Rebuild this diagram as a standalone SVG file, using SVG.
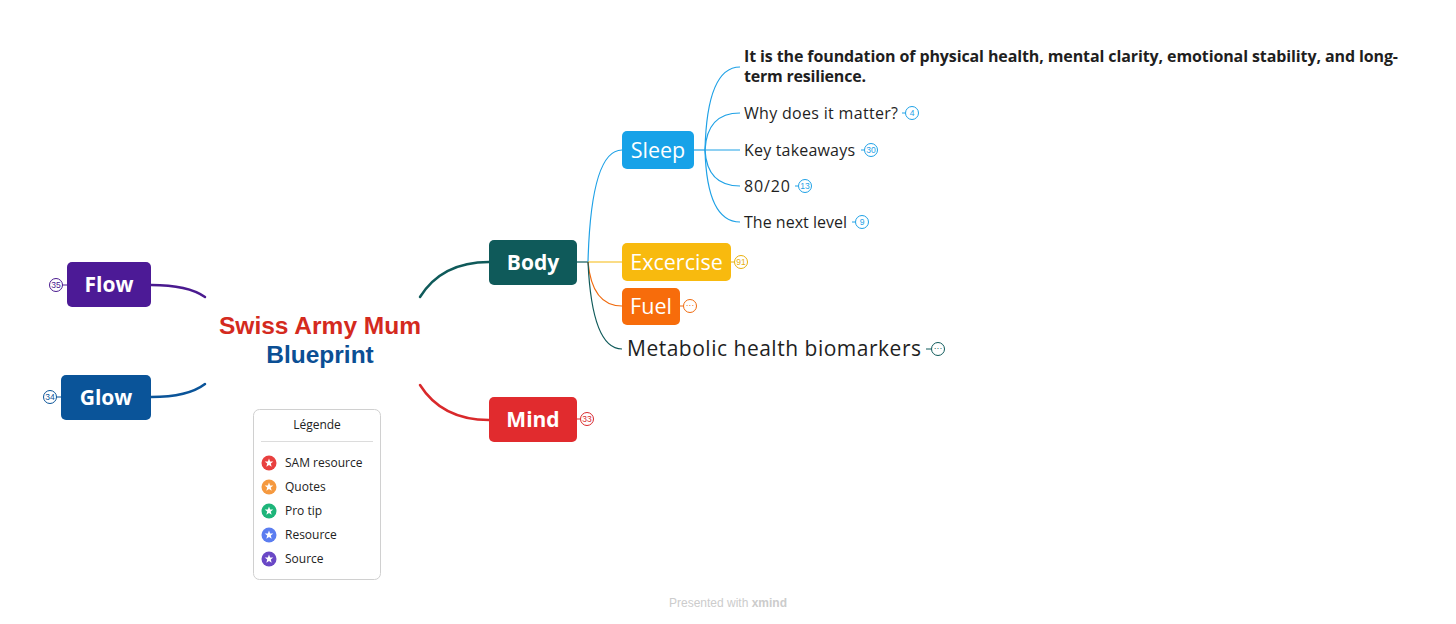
<svg xmlns="http://www.w3.org/2000/svg" width="1456" height="624" viewBox="0 0 1456 624">
<style>
.ff{font-family:"Open Sans","Noto Sans","Liberation Sans",sans-serif}
.main{stroke-width:2.5;fill:none;stroke-linecap:round}
.sub{stroke-width:1.2;fill:none}
.lbl{font-family:"Open Sans","Noto Sans","Liberation Sans",sans-serif;font-size:16px;fill:#1f1f1f}
.bt{font-family:"Open Sans","Noto Sans","Liberation Sans",sans-serif;font-size:21px;font-weight:700;fill:#fff;text-anchor:middle}
.nt{font-family:"Open Sans","Noto Sans","Liberation Sans",sans-serif;font-size:21.5px;fill:#fff;text-anchor:middle}
.badge circle{fill:#fff;stroke-width:1}
.badge text{font-family:"Liberation Sans",Arial,sans-serif;font-size:8.5px;text-anchor:middle}
.leg{font-family:"Open Sans","Noto Sans","Liberation Sans",sans-serif;font-size:12px;fill:#222}
</style>
<defs>
<polygon id="star" points="0,-4.5 1.12,-1.54 4.28,-1.39 1.81,0.59 2.65,3.64 0,1.9 -2.65,3.64 -1.81,0.59 -4.28,-1.39 -1.12,-1.54" fill="#fff"/>
</defs>
<rect width="1456" height="624" fill="#fff"/>

<g id="connectors">
<path class="main" stroke="#0f5a5a" d="M420,297 Q442,262 489,262"/>
<path class="main" stroke="#d9292b" d="M420,385 Q442,420 489,420"/>
<path class="main" stroke="#4a1a8f" d="M205,297 Q188,285 151,285"/>
<path class="main" stroke="#0a5499" d="M205,384 Q188,397 151,397"/>
<path class="sub" stroke="#0f5a5a" d="M577,262 L588,262"/>
<path class="sub" stroke="#1ea1e6" d="M588,262 Q591,150 622,150"/>
<path class="sub" stroke="#f5b90f" d="M588,262 L622,262"/>
<path class="sub" stroke="#f06a0e" d="M588,262 Q592,306 622,306"/>
<path class="sub" stroke="#0f5a5a" d="M588,262 Q592,349 622,349"/>
<path class="sub" stroke="#1ea1e6" d="M694,150 L705,150"/>
<path class="sub" stroke="#1ea1e6" d="M705,150 Q707,67 740,67"/>
<path class="sub" stroke="#1ea1e6" d="M705,150 Q707,113 740,113"/>
<path class="sub" stroke="#1ea1e6" d="M705,150 L740,150"/>
<path class="sub" stroke="#1ea1e6" d="M705,150 Q707,186 740,186"/>
<path class="sub" stroke="#1ea1e6" d="M705,150 Q707,222 740,222"/>
</g>

<g id="central">
<text x="320" y="334" font-family="'Liberation Sans',Arial,sans-serif" font-weight="700" font-size="24.5" fill="#d42a1e" text-anchor="middle">Swiss Army Mum</text>
<text x="320" y="363" font-family="'Liberation Sans',Arial,sans-serif" font-weight="700" font-size="24.5" fill="#0b4f94" text-anchor="middle">Blueprint</text>
</g>

<g id="body">
<rect x="489" y="240" width="88" height="45" rx="5" fill="#0f5a5a"/>
<text class="bt" x="533" y="270">Body</text>
</g>

<g id="mind">
<rect x="489" y="397" width="88" height="45" rx="5" fill="#e12b2e"/>
<text class="bt" x="533" y="427">Mind</text>
<g class="badge"><path d="M577,419 H580" stroke="#d9292b" stroke-width="1"/><circle cx="587" cy="419" r="6.5" stroke="#d9292b"/><text x="587" y="422" fill="#d9292b">33</text></g>
</g>

<g id="flow">
<rect x="67" y="262" width="84" height="45" rx="5" fill="#4c1a96"/>
<text class="bt" x="109" y="292">Flow</text>
<g class="badge"><path d="M62,285 H67" stroke="#4a1a8f" stroke-width="1"/><circle cx="56" cy="285" r="6.5" stroke="#4a1a8f"/><text x="56" y="288" fill="#4a1a8f">35</text></g>
</g>

<g id="glow">
<rect x="61" y="375" width="90" height="45" rx="5" fill="#0a5499"/>
<text class="bt" x="106" y="405">Glow</text>
<g class="badge"><path d="M56,397 H61" stroke="#0a5499" stroke-width="1"/><circle cx="50" cy="397" r="6.5" stroke="#0a5499"/><text x="50" y="400" fill="#0a5499">34</text></g>
</g>

<g id="sleep">
<rect x="622" y="131" width="72" height="38" rx="5" fill="#17a2e8"/>
<text class="nt" x="658" y="158">Sleep</text>
</g>

<g id="excercise">
<rect x="622" y="243" width="109" height="38" rx="5" fill="#f8ba0e"/>
<text class="nt" x="676.5" y="270">Excercise</text>
<g class="badge"><path d="M731,262 H734" stroke="#e8b00c" stroke-width="1"/><circle cx="741" cy="262" r="6.5" stroke="#e8b00c"/><text x="741" y="265" fill="#e8b00c">91</text></g>
</g>

<g id="fuel">
<rect x="622" y="288" width="58" height="37" rx="5" fill="#f76c0b"/>
<text class="nt" x="651" y="314">Fuel</text>
<g class="badge"><path d="M680,306 H683" stroke="#f06a0e" stroke-width="1"/><circle cx="690" cy="306" r="6.5" stroke="#f06a0e"/><text x="690" y="308" fill="#f06a0e">···</text></g>
</g>

<g id="metabolic">
<text class="ff" x="627" y="356" font-size="21" fill="#1f1f1f" textLength="294">Metabolic health biomarkers</text>
<g class="badge"><path d="M926,349 H931" stroke="#0f5a5a" stroke-width="1"/><circle cx="938" cy="349" r="6.5" stroke="#0f5a5a"/><text x="938" y="351" fill="#0f5a5a">···</text></g>
</g>

<g id="foundation">
<text class="lbl" x="744" y="62" font-size="14.5" font-weight="700" textLength="654">It is the foundation of physical health, mental clarity, emotional stability, and long-</text>
<text class="lbl" x="744" y="82" font-size="14.5" font-weight="700" textLength="122">term resilience.</text>
</g>

<g id="why">
<text class="lbl" x="744" y="119" textLength="154">Why does it matter?</text>
<g class="badge"><path d="M902,113 H905" stroke="#1ea1e6" stroke-width="1"/><circle cx="912" cy="113" r="6.5" stroke="#1ea1e6"/><text x="912" y="116" fill="#1ea1e6">4</text></g>
</g>

<g id="takeaways">
<text class="lbl" x="744" y="156" textLength="111">Key takeaways</text>
<g class="badge"><path d="M861,150 H864" stroke="#1ea1e6" stroke-width="1"/><circle cx="871" cy="150" r="6.5" stroke="#1ea1e6"/><text x="871" y="153" fill="#1ea1e6">30</text></g>
</g>

<g id="eighty">
<text class="lbl" x="744" y="192" textLength="46">80/20</text>
<g class="badge"><path d="M795,186 H798" stroke="#1ea1e6" stroke-width="1"/><circle cx="805" cy="186" r="6.5" stroke="#1ea1e6"/><text x="805" y="189" fill="#1ea1e6">13</text></g>
</g>

<g id="nextlevel">
<text class="lbl" x="744" y="228" textLength="103">The next level</text>
<g class="badge"><path d="M852,222 H855" stroke="#1ea1e6" stroke-width="1"/><circle cx="862" cy="222" r="6.5" stroke="#1ea1e6"/><text x="862" y="225" fill="#1ea1e6">9</text></g>
</g>

<g id="legend">
<rect x="253.5" y="409.5" width="127" height="170" rx="6" fill="#fff" stroke="#d0d0d0"/>
<text class="leg" x="317" y="429" text-anchor="middle">Légende</text>
<line x1="261" y1="441.5" x2="373" y2="441.5" stroke="#dcdcdc"/>
<circle cx="269" cy="463" r="7.5" fill="#e8403f"/><use href="#star" x="269" y="463"/>
<text class="leg" x="285" y="467">SAM resource</text>
<circle cx="269" cy="487" r="7.5" fill="#f5993f"/><use href="#star" x="269" y="487"/>
<text class="leg" x="285" y="491">Quotes</text>
<circle cx="269" cy="511" r="7.5" fill="#1eb57a"/><use href="#star" x="269" y="511"/>
<text class="leg" x="285" y="515">Pro tip</text>
<circle cx="269" cy="535" r="7.5" fill="#5b7df0"/><use href="#star" x="269" y="535"/>
<text class="leg" x="285" y="539">Resource</text>
<circle cx="269" cy="559" r="7.5" fill="#6a48c6"/><use href="#star" x="269" y="559"/>
<text class="leg" x="285" y="563">Source</text>
</g>

<text x="728" y="607" font-family="'Liberation Sans',Arial,sans-serif" font-size="12" fill="#cccccc" text-anchor="middle">Presented with <tspan font-weight="700">xmind</tspan></text>
</svg>
